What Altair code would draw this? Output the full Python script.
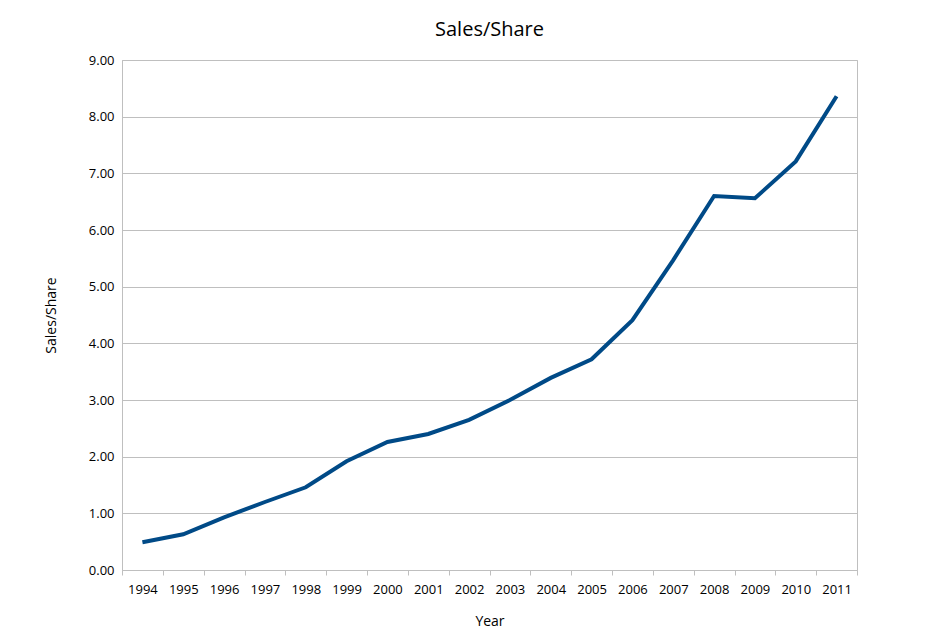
import altair as alt
import pandas as pd

LINE_COLOR = "#004a87"

years = [str(y) for y in range(1994, 2012)]
sales_share = [0.49, 0.63, 0.93, 1.20, 1.46, 1.92, 2.26, 2.40, 2.65, 3.00,
               3.39, 3.72, 4.41, 5.47, 6.60, 6.56, 7.21, 8.36]

frame = pd.DataFrame({"year": years, "value": sales_share})

chart = alt.Chart(frame).mark_line(color=LINE_COLOR, strokeWidth=4).encode(
    x=alt.X("year:O", title="Year", scale=alt.Scale(type="band", paddingInner=0, paddingOuter=0),
            axis=alt.Axis(labelAngle=0, grid=False, titlePadding=18, labelPadding=8, tickBand="extent")),
    y=alt.Y("value:Q", title="Sales/Share", scale=alt.Scale(domain=[0, 9]),
            axis=alt.Axis(format=".2f", tickCount=9, titlePadding=30, ticks=False, labelPadding=8)),
).properties(
    width=735,
    height=510,
    title=alt.TitleParams("Sales/Share", fontSize=20, font="Open Sans", fontWeight="normal", offset=14),
    autosize=alt.AutoSizeParams(type="none"),
    padding={"left": 114, "top": 52, "right": 70, "bottom": 60},
).configure_view(stroke="#bfbfbf", strokeWidth=1).configure_axis(
    labelFont="Open Sans", titleFont="Open Sans",
    labelFontSize=13, titleFontSize=14, titleFontWeight="normal",
    labelColor="#000", titleColor="#000",
    gridColor="#bfbfbf", domainColor="#bfbfbf", tickColor="#bfbfbf",
)

chart.save("out.html", embed_options={"renderer": "svg", "actions": False})
